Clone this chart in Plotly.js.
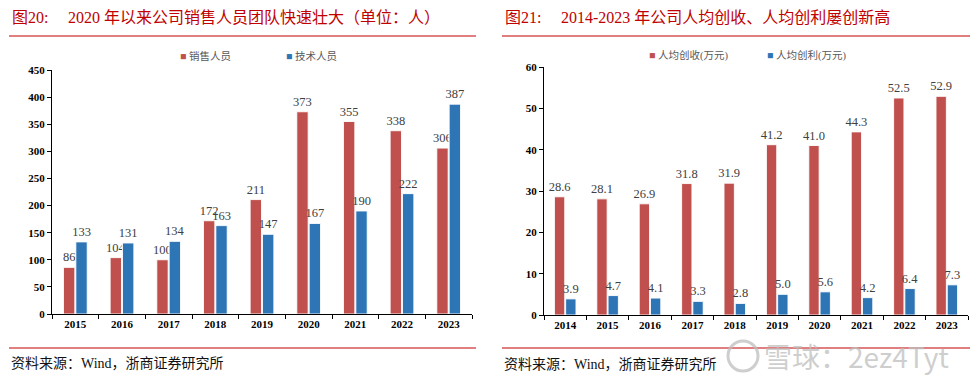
<!DOCTYPE html>
<html>
<head>
<meta charset="utf-8">
<script src="https://cdn.plot.ly/plotly-3.0.1.min.js"></script>
<style>html,body{margin:0;padding:0;background:#fff;}#chart{width:972px;height:382px;}</style>
</head>
<body>
<div id="chart"></div>
<script>
// Left chart data
const staffYears = ['2015','2016','2017','2018','2019','2020','2021','2022','2023'];
const salesStaff = [86, 104, 100, 172, 211, 373, 355, 338, 306];
const techStaff = [133, 131, 134, 163, 147, 167, 190, 222, 387];
const staffSeriesNames = ['销售人员', '技术人员'];

// Right chart data
const perCapYears = ['2014','2015','2016','2017','2018','2019','2020','2021','2022','2023'];
const revenuePerCap = [28.6, 28.1, 26.9, 31.8, 31.9, 41.2, 41.0, 44.3, 52.5, 52.9];
const profitPerCap = [3.9, 4.7, 4.1, 3.3, 2.8, 5.0, 5.6, 4.2, 6.4, 7.3];
const perCapSeriesNames = ['人均创收(万元)', '人均创利(万元)'];

const RED = '#C0504D';
const BLUE = '#2E75B6';
const W = 972, H = 382;
const px = x => x / W;
const py = y => 1 - y / H;

const serif = '"Liberation Serif", "Times New Roman", "Noto Sans CJK SC", serif';
const cjk = '"Liberation Serif", "Noto Sans CJK SC", serif';
const labelFont = {family: serif, size: 12.5, color: '#404040'};

function barTrace(xs, ys, name, color, xa, ya, fmt) {
  return {
    type: 'bar', x: xs, y: ys, name: name, xaxis: xa, yaxis: ya,
    marker: {color: color, line: {color: 'rgba(255,255,255,0.9)', width: 1}},
    text: ys.map(fmt), textposition: 'outside', cliponaxis: false, constraintext: 'none',
    textfont: labelFont, outsidetextfont: labelFont, showlegend: false, hoverinfo: 'x+y+name'
  };
}

const data = [
  barTrace(staffYears, salesStaff, staffSeriesNames[0], RED, 'x', 'y', v => String(v)),
  barTrace(staffYears, techStaff, staffSeriesNames[1], BLUE, 'x', 'y', v => String(v)),
  barTrace(perCapYears, revenuePerCap, perCapSeriesNames[0], RED, 'x2', 'y2', v => v.toFixed(1)),
  barTrace(perCapYears, profitPerCap, perCapSeriesNames[1], BLUE, 'x2', 'y2', v => v.toFixed(1))
];

const tickFont = {family: serif, size: 11, color: '#000', weight: 'bold'};
function xAxis(domain, anchor) {
  return {domain: domain, anchor: anchor, type: 'category', showline: true, linecolor: '#000', linewidth: 1,
    ticks: 'outside', tickson: 'boundaries', ticklen: 4, tickcolor: '#000', showgrid: false,
    tickfont: tickFont, fixedrange: true};
}
function yAxis(domain, anchor, range, dtick) {
  return {domain: domain, anchor: anchor, range: range, dtick: dtick, showline: true, linecolor: '#000', linewidth: 1,
    ticks: 'outside', ticklen: 4, tickcolor: '#000', showgrid: false, zeroline: false,
    tickfont: tickFont, fixedrange: true};
}

const titleColor = '#C00000';
function ann(x, y, text, size, color, anchor, family) {
  return {xref: 'paper', yref: 'paper', x: px(x), y: py(y), text: text, showarrow: false,
    xanchor: anchor || 'left', yanchor: 'middle', font: {family: family || cjk, size: size, color: color}};
}
const legendColor = '#595959';
const annotations = [
  ann(10, 18, '图20:', 16, titleColor),
  ann(66, 18, '2020 年以来公司销售人员团队快速壮大（单位：人）', 16, titleColor),
  ann(503, 18, '图21:', 16, titleColor),
  ann(559, 18, '2014-2023 年公司人均创收、人均创利屡创新高', 16, titleColor),
  ann(178, 56, '<span style="color:' + RED + '">■</span> ' + staffSeriesNames[0], 10.5, legendColor),
  ann(284, 56, '<span style="color:' + BLUE + '">■</span> ' + staffSeriesNames[1], 10.5, legendColor),
  ann(647, 56, '<span style="color:' + RED + '">■</span> ' + perCapSeriesNames[0], 10.5, legendColor),
  ann(765, 56, '<span style="color:' + BLUE + '">■</span> ' + perCapSeriesNames[1], 10.5, legendColor),
  ann(9, 363, '资料来源：Wind，浙商证券研究所', 14, '#111'),
  ann(502, 364, '资料来源：Wind，浙商证券研究所', 14, '#111'),
  ann(762, 356, '雪球：2ez4Tyt', 28, 'rgba(190,190,190,0.75)', 'left', '"Noto Sans CJK SC", "DejaVu Sans", sans-serif')
];

const lineRed = '#C00000';
function hline(x0, x1, y) {
  return {type: 'line', xref: 'paper', yref: 'paper', x0: px(x0), x1: px(x1), y0: py(y), y1: py(y),
    line: {color: lineRed, width: 1.2}};
}
const shapes = [
  hline(9, 476, 36), hline(502, 970, 36),
  hline(9, 476, 348), hline(502, 970, 348),
  {type: 'circle', xref: 'paper', yref: 'paper', x0: px(728), x1: px(758), y0: py(371), y1: py(341),
    line: {color: 'rgba(190,190,190,0.75)', width: 3}}
];

const layout = {
  width: W, height: H,
  margin: {l: 0, r: 0, t: 0, b: 0},
  paper_bgcolor: '#fff', plot_bgcolor: 'rgba(0,0,0,0)',
  barmode: 'group', bargap: 0.47, bargroupgap: 0.08,
  showlegend: false,
  xaxis: xAxis([px(52), px(472)], 'y'),
  yaxis: yAxis([py(314), py(70)], 'x', [0, 450], 50),
  xaxis2: xAxis([px(544), px(968)], 'y2'),
  yaxis2: yAxis([py(315), py(67)], 'x2', [0, 60], 10),
  annotations: annotations,
  shapes: shapes,
  font: {family: cjk}
};

Plotly.newPlot('chart', data, layout, {displayModeBar: false, staticPlot: true});
</script>
</body>
</html>
